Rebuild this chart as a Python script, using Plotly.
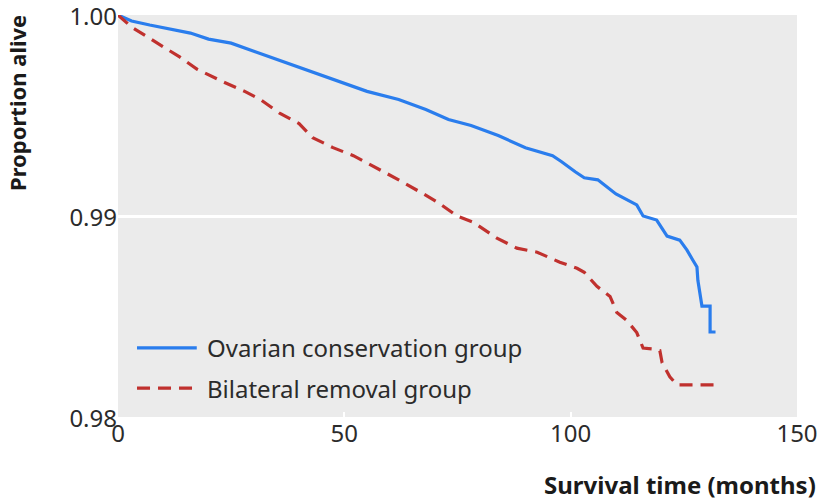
import plotly.graph_objects as go

# Ovarian conservation group (Kaplan-Meier estimates)
cons_months = [0, 3, 7, 12, 16, 20, 25, 30, 35, 40, 45, 50, 55, 62, 68, 73, 78, 84, 90, 96, 98,
               101, 103, 106, 110, 114.6, 116, 119, 121.3, 124.1, 125.7, 127, 127.9, 128.1,
               128.6, 129, 130.8, 130.8, 132]
cons_surv = [1.0, 0.9997, 0.9995, 0.9993, 0.9991, 0.9988, 0.9986, 0.9982, 0.9978, 0.9974, 0.9970,
             0.9966, 0.9962, 0.9958, 0.9953, 0.9948, 0.9945, 0.9940, 0.9934, 0.9930, 0.9927,
             0.9922, 0.9919, 0.9918, 0.9911, 0.99055, 0.9900, 0.9898, 0.9890, 0.9888, 0.9883,
             0.9878, 0.98746, 0.9868, 0.9861, 0.98552, 0.98552, 0.98423, 0.98423]

# Bilateral removal group
rem_months = [0, 3, 8, 13.7, 17.5, 23, 28, 31.4, 35.8, 40, 43, 47.5, 52, 57.9, 62, 66.7, 70.5,
              74.9, 78.4, 83.7, 88.1, 92.6, 97.6, 101.4, 103, 105.8, 108.7, 110.2, 112.4, 114.6,
              116, 118.2, 119.7, 120.2, 121.9, 123.5, 132]
rem_surv = [1.0, 0.9994, 0.9987, 0.9979, 0.9973, 0.9967, 0.9962, 0.9958, 0.9951, 0.9946, 0.9939,
            0.9934, 0.9930, 0.9923, 0.9918, 0.9912, 0.9907, 0.9900, 0.9897, 0.9889, 0.9884,
            0.9882, 0.9877, 0.9874, 0.9872, 0.9865, 0.9860, 0.9852, 0.9848, 0.9842, 0.98343,
            0.98338, 0.9833, 0.9827, 0.9820, 0.9816, 0.9816]

series_names = ["Ovarian conservation group", "Bilateral removal group"]
x_ticks = [0, 50, 100, 150]
y_ticks = [0.98, 0.99, 1.00]
y_ticktext = ["0.98", "0.99", "1.00"]

BLUE = "#2a7ded"
RED = "#c0312e"
FONT = "Noto Sans"
TXT = "#2b2b2b"
DASH = "13px,8px"

fig = go.Figure()
fig.add_trace(go.Scatter(x=cons_months, y=cons_surv, mode="lines", name=series_names[0],
                         line=dict(color=BLUE, width=3.2), showlegend=False))
fig.add_trace(go.Scatter(x=rem_months, y=rem_surv, mode="lines", name=series_names[1],
                         line=dict(color=RED, width=3.2, dash=DASH), showlegend=False))

# custom legend (line samples + text)
leg = [(series_names[0], BLUE, "solid", 0.172), (series_names[1], RED, DASH, 0.072)]
for name, col, dash, yy in leg:
    fig.add_shape(type="line", xref="paper", yref="paper", x0=0.028, x1=0.116, y0=yy, y1=yy,
                  line=dict(color=col, width=3.2, dash=dash))
    fig.add_annotation(text=name, xref="paper", yref="paper", x=0.128, y=yy, xanchor="left",
                       yanchor="middle", showarrow=False,
                       font=dict(family=FONT, size=24, color=TXT))

fig.add_annotation(text="<b>Survival time (months)</b>", xref="paper", yref="paper",
                   x=1.031, y=-0.169, xanchor="right", yanchor="middle", showarrow=False,
                   font=dict(family=FONT, size=24, color="#1a1a1a"))
fig.add_annotation(text="<b>Proportion alive</b>", xref="paper", yref="paper",
                   x=-0.148, y=0.78, xanchor="center", yanchor="middle", textangle=-90,
                   showarrow=False, font=dict(family=FONT, size=22, color="#1a1a1a"))

fig.update_layout(
    template="none",
    width=824, height=504,
    margin=dict(l=118, r=27, t=15, b=87, autoexpand=False),
    paper_bgcolor="white", plot_bgcolor="#ebebeb",
    font=dict(family=FONT, size=24, color=TXT),
    xaxis=dict(range=[0, 150], tickvals=x_ticks, showgrid=False, zeroline=False,
               ticks="inside", ticklen=5, tickcolor="white", tickwidth=2,
               tickfont=dict(size=24, color=TXT), showline=False, automargin=False,
               ticklabeloverflow="allow"),
    yaxis=dict(range=[0.98, 1.0], tickvals=y_ticks, ticktext=y_ticktext, showgrid=True,
               gridcolor="white", gridwidth=2.5, zeroline=False, ticks="",
               tickfont=dict(size=24, color=TXT), showline=False, automargin=False,
               ticklabeloverflow="allow", ticklabelshift=2),
)

fig.write_html("out.html", config={"displayModeBar": False},
               post_script="document.body.style.margin='0';")
